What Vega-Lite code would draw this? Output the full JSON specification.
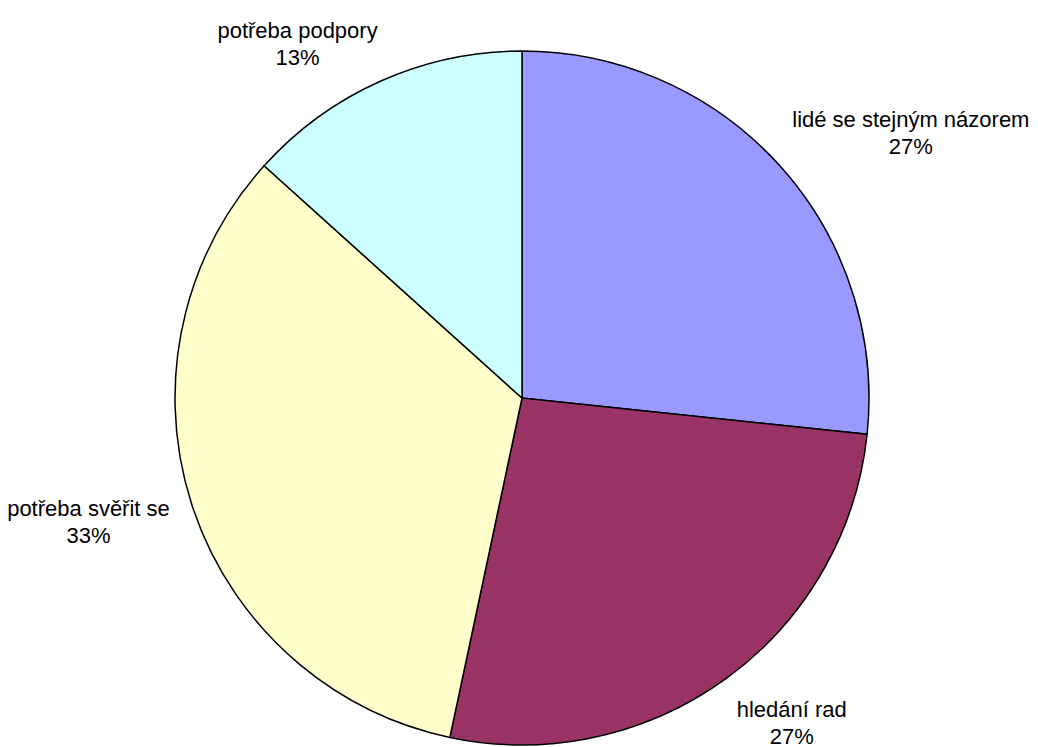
{
  "$schema": "https://vega.github.io/schema/vega-lite/v6.json",
  "width": 1032,
  "height": 698,
  "autosize": {"type": "none"},
  "padding": {"left": 6, "top": 49, "right": 0, "bottom": 0},
  "background": "white",
  "view": {"stroke": null},
  "data": {
    "values": [
      {"cat": "lidé se stejným názorem", "value": 4, "pct": "27%", "ord": 1},
      {"cat": "hledání rad", "value": 4, "pct": "27%", "ord": 2},
      {"cat": "potřeba svěřit se", "value": 5, "pct": "33%", "ord": 3},
      {"cat": "potřeba podpory", "value": 2, "pct": "13%", "ord": 4}
    ]
  },
  "encoding": {
    "theta": {"field": "value", "type": "quantitative", "stack": true},
    "order": {"field": "ord", "type": "quantitative"},
    "color": {
      "field": "cat",
      "type": "nominal",
      "scale": {
        "domain": ["lidé se stejným názorem", "hledání rad", "potřeba svěřit se", "potřeba podpory"],
        "range": ["#9999FF", "#993366", "#FFFFCC", "#CCFFFF"]
      },
      "legend": null
    }
  },
  "layer": [
    {
      "mark": {"type": "arc", "outerRadius": 347, "stroke": "black", "strokeWidth": 1.5}
    },
    {
      "mark": {
        "type": "text",
        "radius": 365,
        "font": "Liberation Sans",
        "fontSize": 22,
        "align": "center",
        "baseline": "middle",
        "dx": {"expr": "(sin(scale('theta', 0.5*datum.value_start + 0.5*datum.value_end)) > 0 ? 1 : -1) * (length(datum.cat) * 5.2 - 2)"},
        "dy": {"expr": "(cos(scale('theta', 0.5*datum.value_start + 0.5*datum.value_end)) > 0 ? -21 : -cos(scale('theta', 0.5*datum.value_start + 0.5*datum.value_end)) * 37) - 13"}
      },
      "encoding": {
        "text": {"field": "cat", "type": "nominal"},
        "color": {"value": "black"}
      }
    },
    {
      "mark": {
        "type": "text",
        "radius": 365,
        "font": "Liberation Sans",
        "fontSize": 22,
        "align": "center",
        "baseline": "middle",
        "dx": {"expr": "(sin(scale('theta', 0.5*datum.value_start + 0.5*datum.value_end)) > 0 ? 1 : -1) * (length(datum.cat) * 5.2 - 2)"},
        "dy": {"expr": "(cos(scale('theta', 0.5*datum.value_start + 0.5*datum.value_end)) > 0 ? -21 : -cos(scale('theta', 0.5*datum.value_start + 0.5*datum.value_end)) * 37) + 14"}
      },
      "encoding": {
        "text": {"field": "pct", "type": "nominal"},
        "color": {"value": "black"}
      }
    }
  ]
}
